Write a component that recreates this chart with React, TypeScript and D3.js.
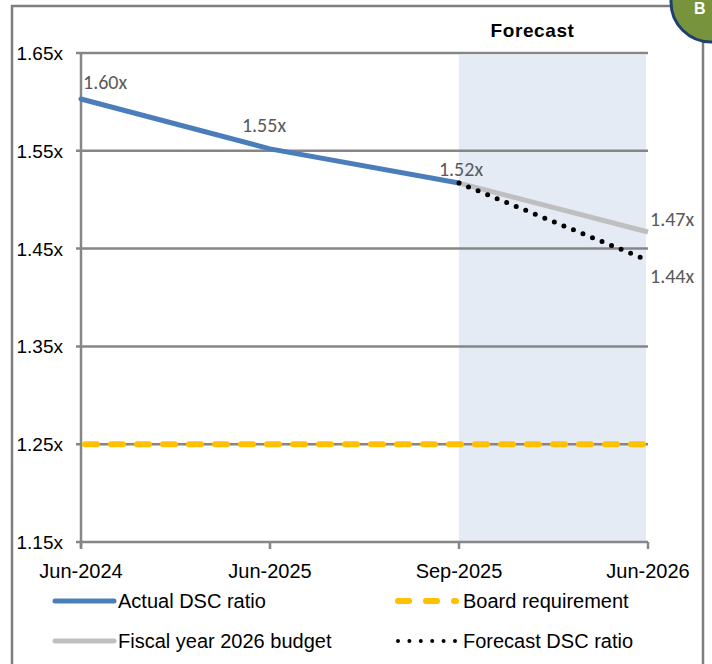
import { useRef, useEffect } from "react";
import * as d3 from "d3";

// chart data
const categories = ["Jun-2024", "Jun-2025", "Sep-2025", "Jun-2026"];
const actualRatio = [1.603, 1.552, 1.517, null];
const budgetRatio = [null, null, 1.517, 1.467];
const forecastRatio = [null, null, 1.517, 1.438];
const boardRequirement = [1.25, 1.25, 1.25, 1.25];
const yTicks = [1.15, 1.25, 1.35, 1.45, 1.55, 1.65];
const pointLabels = [
  { series: "actual", index: 0, text: "1.60x" },
  { series: "actual", index: 1, text: "1.55x" },
  { series: "actual", index: 2, text: "1.52x" },
  { series: "budget", index: 3, text: "1.47x" },
  { series: "forecast", index: 3, text: "1.44x" },
];
const forecastStart = "Sep-2025";
const forecastEnd = "Jun-2026";

export default function App() {
  const svgRef = useRef<SVGSVGElement>(null);

  useEffect(() => {
    const width = 712;
    const height = 664;
    const MARGIN = { top: 53, right: 63, bottom: 121, left: 81 };

    const svg = d3.select(svgRef.current);
    svg.selectAll("*").remove();

    const sans = "'Liberation Sans', Arial, sans-serif";
    const narrow = "Carlito, 'Liberation Sans Narrow', 'Liberation Sans', sans-serif";
    const gridColor = "#868686";

    // outer frame
    svg.append("rect")
      .attr("x", 12).attr("y", 6)
      .attr("width", 691).attr("height", 680)
      .attr("fill", "#fff")
      .attr("stroke", "#7f7f7f")
      .attr("stroke-width", 2.5);

    const xScale = d3.scalePoint()
      .domain(categories)
      .range([MARGIN.left, width - MARGIN.right - 1]);

    const yScale = d3.scaleLinear()
      .domain([1.15, 1.65])
      .range([height - MARGIN.bottom - 1, MARGIN.top]);

    // forecast shading
    svg.append("rect")
      .attr("x", xScale(forecastStart)!)
      .attr("y", yScale(1.65) + 2)
      .attr("width", xScale(forecastEnd)! - xScale(forecastStart)! - 2)
      .attr("height", yScale(1.15) - yScale(1.65) - 3)
      .attr("fill", "#e4ebf5");

    svg.append("text")
      .attr("x", (xScale(forecastStart)! + xScale(forecastEnd)!) / 2 - 21)
      .attr("y", 37)
      .attr("text-anchor", "middle")
      .attr("font-family", sans)
      .attr("font-weight", "bold")
      .attr("font-size", 19)
      .attr("letter-spacing", 0.6)
      .attr("fill", "#000")
      .text("Forecast");

    // gridlines
    svg.append("g")
      .selectAll("line")
      .data(yTicks)
      .join("line")
      .attr("x1", MARGIN.left - 5)
      .attr("x2", xScale(forecastEnd)!)
      .attr("y1", d => yScale(d))
      .attr("y2", d => yScale(d))
      .attr("stroke", gridColor)
      .attr("stroke-width", 2.5);

    // y axis line
    svg.append("line")
      .attr("x1", MARGIN.left).attr("x2", MARGIN.left)
      .attr("y1", yScale(1.65)).attr("y2", yScale(1.15) + 6)
      .attr("stroke", gridColor)
      .attr("stroke-width", 2.5);

    // x ticks
    svg.append("g")
      .selectAll("line")
      .data(categories)
      .join("line")
      .attr("x1", d => xScale(d)!)
      .attr("x2", d => xScale(d)!)
      .attr("y1", yScale(1.15))
      .attr("y2", yScale(1.15) + 7)
      .attr("stroke", gridColor)
      .attr("stroke-width", 2.5);

    // y labels
    svg.append("g")
      .selectAll("text")
      .data(yTicks)
      .join("text")
      .attr("x", MARGIN.left - 18)
      .attr("y", d => yScale(d) + 7)
      .attr("text-anchor", "end")
      .attr("font-family", sans)
      .attr("font-size", 19)
      .attr("fill", "#000")
      .text(d => d.toFixed(2) + "x");

    // x labels
    svg.append("g")
      .selectAll("text")
      .data(categories)
      .join("text")
      .attr("x", d => xScale(d)!)
      .attr("y", yScale(1.15) + 36)
      .attr("text-anchor", "middle")
      .attr("font-family", sans)
      .attr("font-size", 20)
      .attr("fill", "#000")
      .text(d => d);

    const toPoints = (values: (number | null)[]) =>
      values.map((v, i) => ({ x: categories[i], y: v }));

    const line = d3.line<{ x: string; y: number | null }>()
      .defined(d => d.y != null)
      .x(d => xScale(d.x)!)
      .y(d => yScale(d.y as number));

    // board requirement
    svg.append("path")
      .attr("d", line(toPoints(boardRequirement)))
      .attr("fill", "none")
      .attr("stroke", "#ffc000")
      .attr("stroke-width", 6)
      .attr("stroke-linecap", "round")
      .attr("stroke-dasharray", "12 14")
      .attr("transform", "translate(4,0)");

    // budget
    svg.append("path")
      .attr("d", line(toPoints(budgetRatio)))
      .attr("fill", "none")
      .attr("stroke", "#bfbfbf")
      .attr("stroke-width", 5);

    // actual
    svg.append("path")
      .attr("d", line(toPoints(actualRatio)))
      .attr("fill", "none")
      .attr("stroke", "#4a7ebb")
      .attr("stroke-width", 5)
      .attr("stroke-linecap", "round");

    // forecast dotted
    svg.append("path")
      .attr("d", line(toPoints(forecastRatio)))
      .attr("fill", "none")
      .attr("stroke", "#000")
      .attr("stroke-width", 5)
      .attr("stroke-linecap", "round")
      .attr("stroke-dasharray", "0 10.3");

    // data labels
    const seriesMap: Record<string, (number | null)[]> = {
      actual: actualRatio,
      budget: budgetRatio,
      forecast: forecastRatio,
    };
    const labelOffset: Record<string, [number, number, string]> = {
      "1.60x": [2, -10, "start"],
      "1.55x": [-6, -17, "middle"],
      "1.52x": [2, -7, "middle"],
      "1.47x": [2, -6, "start"],
      "1.44x": [2, 23, "start"],
    };
    svg.append("g")
      .selectAll("text")
      .data(pointLabels)
      .join("text")
      .attr("x", d => xScale(categories[d.index])! + labelOffset[d.text][0])
      .attr("y", d => yScale(seriesMap[d.series][d.index] as number) + labelOffset[d.text][1])
      .attr("text-anchor", d => labelOffset[d.text][2])
      .attr("font-family", narrow)
      .attr("font-size", 20)
      .attr("fill", "#595959")
      .text(d => d.text);

    // legend
    const legend = [
      { label: "Actual DSC ratio", color: "#4a7ebb", dash: null, w: 5, x: 55, y: 601, len: 59 },
      { label: "Board requirement", color: "#ffc000", dash: "11 17", w: 6, x: 398, y: 601, len: 58 },
      { label: "Fiscal year 2026 budget", color: "#bfbfbf", dash: null, w: 5, x: 55, y: 641, len: 59 },
      { label: "Forecast DSC ratio", color: "#000", dash: "0 11.4", w: 4, x: 398, y: 641, len: 58 },
    ];
    const lg = svg.append("g")
      .selectAll("g")
      .data(legend)
      .join("g");
    lg.append("line")
      .attr("x1", d => d.x)
      .attr("x2", d => d.x + d.len)
      .attr("y1", d => d.y)
      .attr("y2", d => d.y)
      .attr("stroke", d => d.color)
      .attr("stroke-width", d => d.w)
      .attr("stroke-linecap", "round")
      .attr("stroke-dasharray", d => d.dash);
    lg.append("text")
      .attr("x", d => (d.x < 200 ? d.x + 63 : d.x + 65))
      .attr("y", d => d.y + 7)
      .attr("font-family", sans)
      .attr("font-size", 20)
      .attr("fill", "#000")
      .text(d => d.label);

    // corner badge
    svg.append("circle")
      .attr("cx", 711).attr("cy", 2).attr("r", 40)
      .attr("fill", "#77933c")
      .attr("stroke", "#1f3f6f")
      .attr("stroke-width", 3);
    svg.append("text")
      .attr("x", 694).attr("y", 14)
      .attr("font-family", sans)
      .attr("font-weight", "bold")
      .attr("font-size", 16)
      .attr("fill", "#fff")
      .text("B");
  }, []);

  return (
    <svg
      ref={svgRef}
      width={712}
      height={664}
      style={{ position: "absolute", left: 0, top: 0, background: "#fff" }}
    />
  );
}
